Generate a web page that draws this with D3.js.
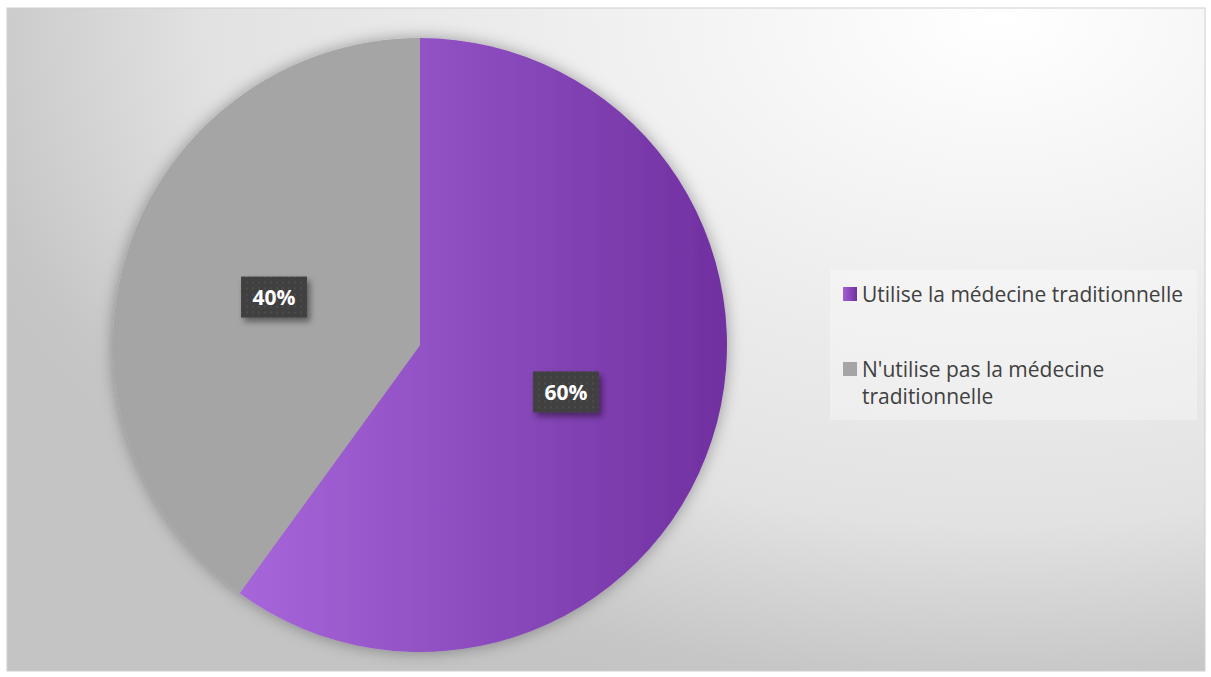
<!DOCTYPE html>
<html>
<head>
<meta charset="utf-8">
<script src="https://cdn.jsdelivr.net/npm/d3@7"></script>
<style>
  body { margin: 0; background: #fff; }
  svg { display: block; }
</style>
</head>
<body>
<svg id="chart" width="1211" height="677"></svg>
<script>
// data
const categories = ["Utilise la médecine traditionnelle", "N'utilise pas la médecine traditionnelle"];
const values = [60, 40];
const labels = ["60%", "40%"];
const legendLines = [["Utilise la médecine traditionnelle"], ["N'utilise pas la médecine", "traditionnelle"]];

const width = 1211;
const height = 677;
const frame = { x: 7, y: 8, w: 1198, h: 663 };
const cx = 420, cy = 345, radius = 307;

const svg = d3.select("#chart");
const defs = svg.append("defs");

// background gradient (elliptical, light at the top right)
const bg = defs.append("radialGradient")
  .attr("id", "bg")
  .attr("gradientUnits", "userSpaceOnUse")
  .attr("cx", 0).attr("cy", 0).attr("r", 1)
  .attr("gradientTransform", "translate(1000,20) scale(1100,700)");
bg.append("stop").attr("offset", "0%").attr("stop-color", "#ffffff");
bg.append("stop").attr("offset", "45%").attr("stop-color", "#ececec");
bg.append("stop").attr("offset", "72%").attr("stop-color", "#e2e2e2");
bg.append("stop").attr("offset", "95%").attr("stop-color", "#c6c6c6");
bg.append("stop").attr("offset", "100%").attr("stop-color", "#c4c4c4");

// purple slice gradient (local coords of the pie group)
const purple = defs.append("linearGradient")
  .attr("id", "purple")
  .attr("gradientUnits", "userSpaceOnUse")
  .attr("x1", -radius).attr("y1", 0).attr("x2", radius).attr("y2", 0);
purple.append("stop").attr("offset", "0%").attr("stop-color", "#b575ea");
purple.append("stop").attr("offset", "100%").attr("stop-color", "#7030a0");

const legPurple = defs.append("linearGradient").attr("id", "legPurple");
legPurple.append("stop").attr("offset", "0%").attr("stop-color", "#a35fd6");
legPurple.append("stop").attr("offset", "100%").attr("stop-color", "#7030a0");

// dotted pattern for label boxes
const pat = defs.append("pattern")
  .attr("id", "dots")
  .attr("patternUnits", "userSpaceOnUse")
  .attr("width", 6).attr("height", 6);
pat.append("rect").attr("width", 6).attr("height", 6).attr("fill", "#3f3f3f");
pat.append("rect").attr("x", 2).attr("y", 2).attr("width", 2).attr("height", 2).attr("fill", "#4b4b4b");

// shadows
const sh = defs.append("filter").attr("id", "shadow")
  .attr("x", "-20%").attr("y", "-20%").attr("width", "140%").attr("height", "140%");
sh.append("feDropShadow").attr("dx", 0).attr("dy", 0).attr("stdDeviation", 8)
  .attr("flood-color", "#000").attr("flood-opacity", 0.35);

const boxSh = defs.append("filter").attr("id", "boxShadow")
  .attr("x", "-30%").attr("y", "-30%").attr("width", "170%").attr("height", "170%");
boxSh.append("feDropShadow").attr("dx", 3).attr("dy", 4).attr("stdDeviation", 3)
  .attr("flood-color", "#000").attr("flood-opacity", 0.45);

// frame
svg.append("rect")
  .attr("x", frame.x).attr("y", frame.y)
  .attr("width", frame.w).attr("height", frame.h)
  .attr("fill", "url(#bg)")
  .attr("stroke", "#d0d0d0").attr("stroke-width", 1);

// pie
const pie = d3.pie().sort(null).value(d => d);
const arc = d3.arc().innerRadius(0).outerRadius(radius);
const arcs = pie(values);
const fills = ["url(#purple)", "#a5a5a5"];

const g = svg.append("g").attr("transform", `translate(${cx},${cy})`);

g.append("g")
  .attr("filter", "url(#shadow)")
  .selectAll("path")
  .data(arcs)
  .join("path")
    .attr("d", arc)
    .attr("fill", (d, i) => fills[i]);

// data labels
const lab = g.selectAll("g.lab")
  .data(arcs)
  .join("g")
    .attr("class", "lab")
    .attr("transform", d => `translate(${arc.centroid(d)})`);

lab.append("rect")
  .attr("x", -33).attr("y", -21)
  .attr("width", 66).attr("height", 41)
  .attr("fill", "url(#dots)")
  .attr("filter", "url(#boxShadow)");

lab.append("text")
  .attr("text-anchor", "middle")
  .attr("dy", "0.35em")
  .attr("fill", "#ffffff")
  .style("font-family", "'Open Sans', sans-serif")
  .style("font-weight", "bold")
  .style("font-size", "21px")
  .text((d, i) => labels[i]);

// legend
svg.append("rect")
  .attr("x", 830).attr("y", 270)
  .attr("width", 367).attr("height", 150)
  .attr("fill", "#ffffff").attr("fill-opacity", 0.3);

const legFills = ["url(#legPurple)", "#a5a5a5"];
const legY = [294, 369];

const leg = svg.selectAll("g.leg")
  .data(categories)
  .join("g")
    .attr("class", "leg")
    .attr("transform", (d, i) => `translate(843,${legY[i]})`);

leg.append("rect")
  .attr("x", 0).attr("y", -7)
  .attr("width", 14).attr("height", 14)
  .attr("fill", (d, i) => legFills[i]);

leg.append("text")
  .attr("x", 19)
  .attr("fill", "#404040")
  .style("font-family", "'Open Sans', sans-serif")
  .style("font-size", "21px")
  .selectAll("tspan")
  .data((d, i) => legendLines[i])
  .join("tspan")
    .attr("x", 19)
    .attr("y", (d, j) => 8 + j * 27)
    .text(d => d);
</script>
</body>
</html>
